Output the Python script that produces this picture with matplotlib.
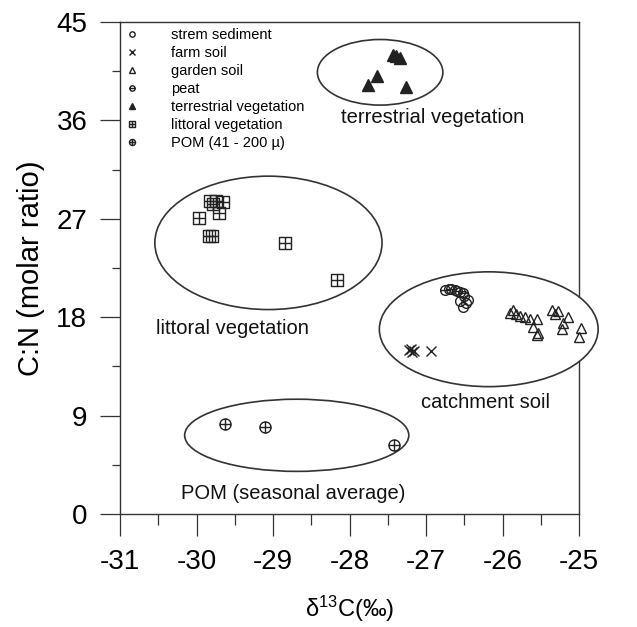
import matplotlib
matplotlib.use("Agg")
import matplotlib.pyplot as plt
from matplotlib.patches import Ellipse
from matplotlib.path import Path

plt.rcParams["font.family"] = ["Liberation Sans", "DejaVu Sans"]
plt.rcParams["mathtext.default"] = "regular"
plt.rcParams["axes.unicode_minus"] = False

# 数据 (δ13C, C:N)
stream_x = [-26.70, -26.62, -26.55, -26.50, -26.55, -26.48, -26.52, -26.45]
stream_y = [20.6, 20.5, 20.3, 19.9, 19.5, 19.3, 18.9, 19.6]
farm_x = [-27.22, -27.18, -27.20, -27.16, -26.94]
farm_y = [15.0, 14.8, 15.1, 14.9, 14.9]
garden_x = [-25.90, -25.86, -25.82, -25.77, -25.70, -25.64, -25.55, -25.60, -25.54, -25.55,
            -25.35, -25.28, -25.31, -25.15, -25.21, -25.22, -24.98, -25.00]
garden_y = [18.4, 18.7, 18.3, 18.1, 18.0, 17.8, 17.8, 17.15, 16.6, 16.4,
            18.7, 18.6, 18.3, 18.05, 17.5, 16.9, 17.05, 16.15]
peat_x = [-26.75, -26.68, -26.60, -26.52]
peat_y = [20.5, 20.6, 20.4, 20.2]
terr_x = [-27.43, -27.39, -27.34, -27.64, -27.76, -27.26]
terr_y = [42.0, 41.9, 41.7, 40.05, 39.2, 39.05]
litt_x = [-29.82, -29.74, -29.66, -29.78, -29.71, -29.97, -29.80, -29.84, -28.84, -28.17]
litt_y = [28.6, 28.6, 28.5, 28.4, 27.55, 27.1, 25.4, 25.4, 24.8, 21.4]
pom_x = [-29.63, -29.11, -27.42]
pom_y = [8.2, 8.0, 6.3]

# 椭圆: 中心x, 中心y, 宽, 高
ellipses = [(-27.60, 40.4, 1.64, 6.0),
            (-29.06, 24.8, 2.97, 12.2),
            (-26.18, 16.9, 2.86, 10.5),
            (-28.69, 7.2, 2.93, 6.6)]

labels = [("terrestrial vegetation", -26.92, 36.3),
          ("littoral vegetation", -29.53, 17.0),
          ("catchment soil", -26.22, 10.2),
          ("POM (seasonal average)", -28.73, 1.9)]

# 自定义符号
circ = Path.unit_circle()
hline = Path([(-1, 0), (1, 0)], [Path.MOVETO, Path.LINETO])
vline = Path([(0, -1), (0, 1)], [Path.MOVETO, Path.LINETO])
square = Path([(-1, -1), (1, -1), (1, 1), (-1, 1), (-1, -1)],
              [Path.MOVETO, Path.LINETO, Path.LINETO, Path.LINETO, Path.CLOSEPOLY])
peat_marker = Path.make_compound_path(circ, hline)
pom_marker = Path.make_compound_path(circ, hline, vline)
litt_marker = Path.make_compound_path(square, hline, vline)

fig = plt.figure(figsize=(6.37, 6.27), dpi=100)
ax = fig.add_axes([0.1884, 0.1802, 0.7206, 0.7847])

c = "#222222"
kw = dict(linestyle="none", color=c, markerfacecolor="none", markeredgewidth=1.0,
          zorder=5, clip_on=False)
ax.plot(stream_x, stream_y, marker="o", markersize=7, label="strem sediment", **kw)
ax.plot(farm_x, farm_y, marker="x", markersize=7.5, label="farm soil", **kw)
ax.plot(garden_x, garden_y, marker="^", markersize=7.5, label="garden soil", **kw)
ax.plot(peat_x, peat_y, marker=peat_marker, markersize=7, label="peat", **kw)
ax.plot(terr_x, terr_y, marker="^", markersize=9, linestyle="none", color=c,
        label="terrestrial vegetation", zorder=5, clip_on=False)
ax.plot(litt_x, litt_y, marker=litt_marker, markersize=8.5, label="littoral vegetation", **kw)
ax.plot(pom_x, pom_y, marker=pom_marker, markersize=8, label="POM (41 - 200 µ)", **kw)

for cx, cy, w, h in ellipses:
    ax.add_patch(Ellipse((cx, cy), w, h, facecolor="white", edgecolor="#333333",
                         lw=1.2, zorder=3, clip_on=False))

for text, x, y in labels:
    ax.text(x, y, text, ha="center", va="center", fontsize=14.5, color="#111111", zorder=6)

ax.set_xlim(-31, -25)
ax.set_ylim(0, 45)
ax.set_xticks(range(-31, -24))
ax.set_yticks(range(0, 46, 9))
ax.set_xticks([x + 0.5 for x in range(-31, -25)], minor=True)
ax.set_yticks([y + 4.5 for y in range(0, 45, 9)], minor=True)
ax.tick_params(axis="both", which="major", labelsize=20, width=0.9, color="#333333", pad=9)
ax.tick_params(axis="x", which="major", length=16)
ax.tick_params(axis="y", which="major", length=14.5)
ax.tick_params(axis="x", which="minor", length=8, width=0.9, color="#333333")
ax.tick_params(axis="y", which="minor", length=6, width=0.9, color="#333333")
for s in ax.spines.values():
    s.set_linewidth(1.0)
    s.set_color("#333333")

ax.set_xlabel(r"δ$^{13}$C(‰)", fontsize=17, labelpad=14)
ax.set_ylabel("C:N (molar ratio)", fontsize=21, labelpad=8)

ax.legend(loc="upper left", bbox_to_anchor=(0.0098, 0.988), frameon=False,
          fontsize=10.5, markerscale=0.55, handlelength=1.0, handletextpad=2.2,
          labelspacing=0.28, borderpad=0, borderaxespad=0)

plt.savefig("out.png", dpi=100)
plt.close()
